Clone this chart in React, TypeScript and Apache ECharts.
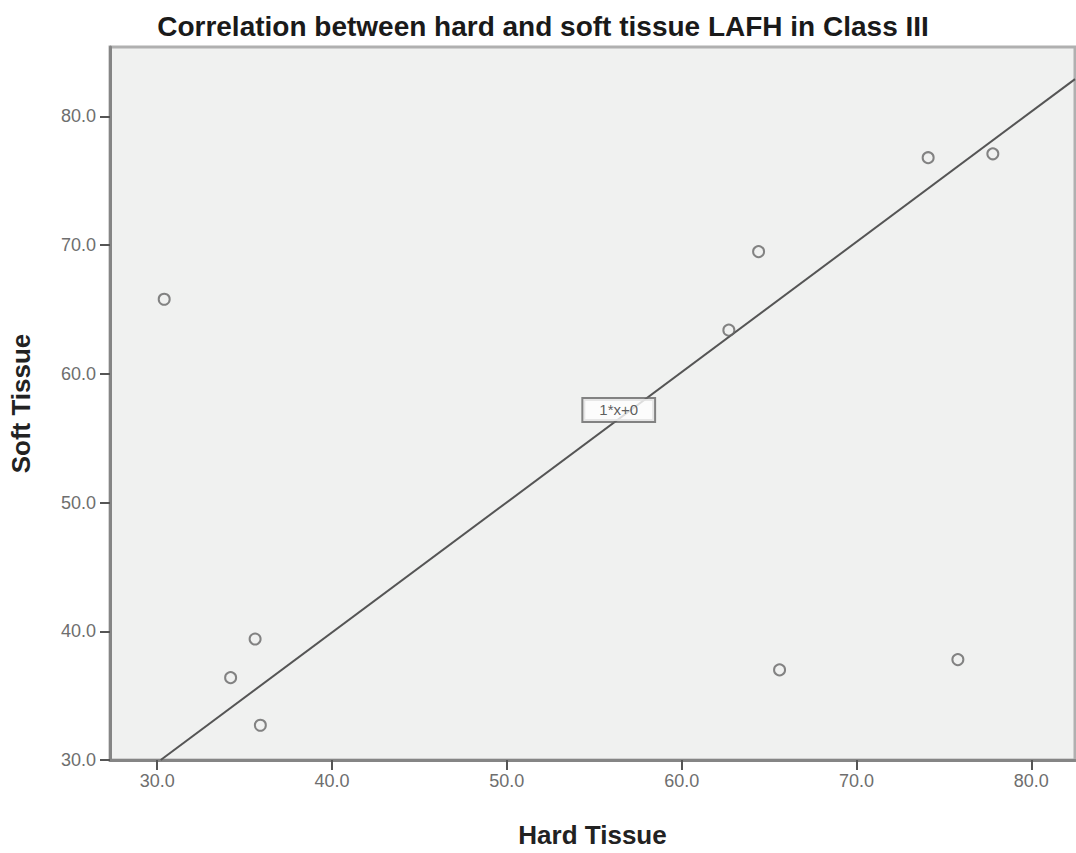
import React, { useEffect, useRef } from "react";
import * as echarts from "echarts";

const title = "Correlation between hard and soft tissue LAFH in Class III";
const xName = "Hard Tissue";
const yName = "Soft Tissue";
const hardTissue = [30.4, 34.2, 35.6, 35.9, 62.7, 64.4, 65.6, 74.1, 75.8, 77.8];
const softTissue = [65.8, 36.4, 39.4, 32.7, 63.4, 69.5, 37.0, 76.8, 37.8, 77.1];
const lineX = [30.2, 82.5];
const lineY = [30.0, 82.9];
const xTicks = [30, 40, 50, 60, 70, 80];
const yTicks = [30, 40, 50, 60, 70, 80];
const lineLabel = "1*x+0";
const labelPos = [56.4, 57.2];

export default function App() {
  const ref = useRef<HTMLDivElement>(null);
  useEffect(() => {
    if (!ref.current) return;
    const chart = echarts.init(ref.current, undefined, { renderer: "svg" });
    const font = "Liberation Sans, Arial, sans-serif";
    const axisCommon = {
      axisLine: { show: true, onZero: false, lineStyle: { color: "#858585", width: 3 } },
      axisTick: { show: true, length: 10, lineStyle: { color: "#555", width: 2 } },
      splitLine: { show: false },
      nameTextStyle: { fontFamily: font, fontWeight: "bold", fontSize: 26, color: "#222" },
      axisLabel: {
        fontFamily: font,
        fontSize: 18,
        color: "#6e6e6e",
        formatter: (v: number) => v.toFixed(1),
      },
    };
    chart.setOption({
      animation: false,
      backgroundColor: "#fff",
      title: {
        text: title,
        left: 538,
        top: 7,
        textAlign: "center",
        textStyle: { fontFamily: font, fontWeight: "bold", fontSize: 28, color: "#1a1a1a" },
      },
      grid: {
        left: 104,
        right: 1,
        top: 47,
        bottom: 79,
        show: true,
        backgroundColor: "#f0f1f0",
        borderColor: "#b0b0b0",
        borderWidth: 3,
      },
      xAxis: {
        type: "value",
        min: 27.3,
        max: 82.5,
        name: xName,
        nameLocation: "middle",
        nameGap: 62,
        ...axisCommon,
        axisTick: { ...axisCommon.axisTick, customValues: xTicks },
        axisLabel: { ...axisCommon.axisLabel, customValues: xTicks, margin: 12 },
      },
      yAxis: {
        type: "value",
        min: 30,
        max: 85.4,
        name: yName,
        nameLocation: "middle",
        nameGap: 76,
        ...axisCommon,
        axisTick: { ...axisCommon.axisTick, customValues: yTicks },
        axisLabel: { ...axisCommon.axisLabel, customValues: yTicks, margin: 14 },
      },
      series: [
        {
          type: "line",
          data: lineX.map((x, i) => [x, lineY[i]]),
          symbol: "none",
          lineStyle: { color: "#555", width: 2 },
          z: 2,
        },
        {
          type: "scatter",
          data: hardTissue.map((x, i) => [x, softTissue[i]]),
          symbol: "circle",
          symbolSize: 11,
          itemStyle: { color: "rgba(0,0,0,0)", borderColor: "#666", borderWidth: 2 },
          z: 3,
        },
        {
          type: "scatter",
          data: [labelPos],
          symbolSize: 0,
          silent: true,
          z: 4,
          label: {
            show: true,
            position: "inside",
            formatter: lineLabel,
            fontFamily: font,
            fontSize: 15,
            color: "#333",
            backgroundColor: "#fff",
            borderColor: "#666",
            borderWidth: 2,
            padding: [4, 16, 3, 16],
          },
        },
      ],
    });
    return () => chart.dispose();
  }, []);
  return (
    <div
      ref={ref}
      style={{ position: "fixed", left: 0, top: 0, width: 1076, height: 853 }}
    />
  );
}
